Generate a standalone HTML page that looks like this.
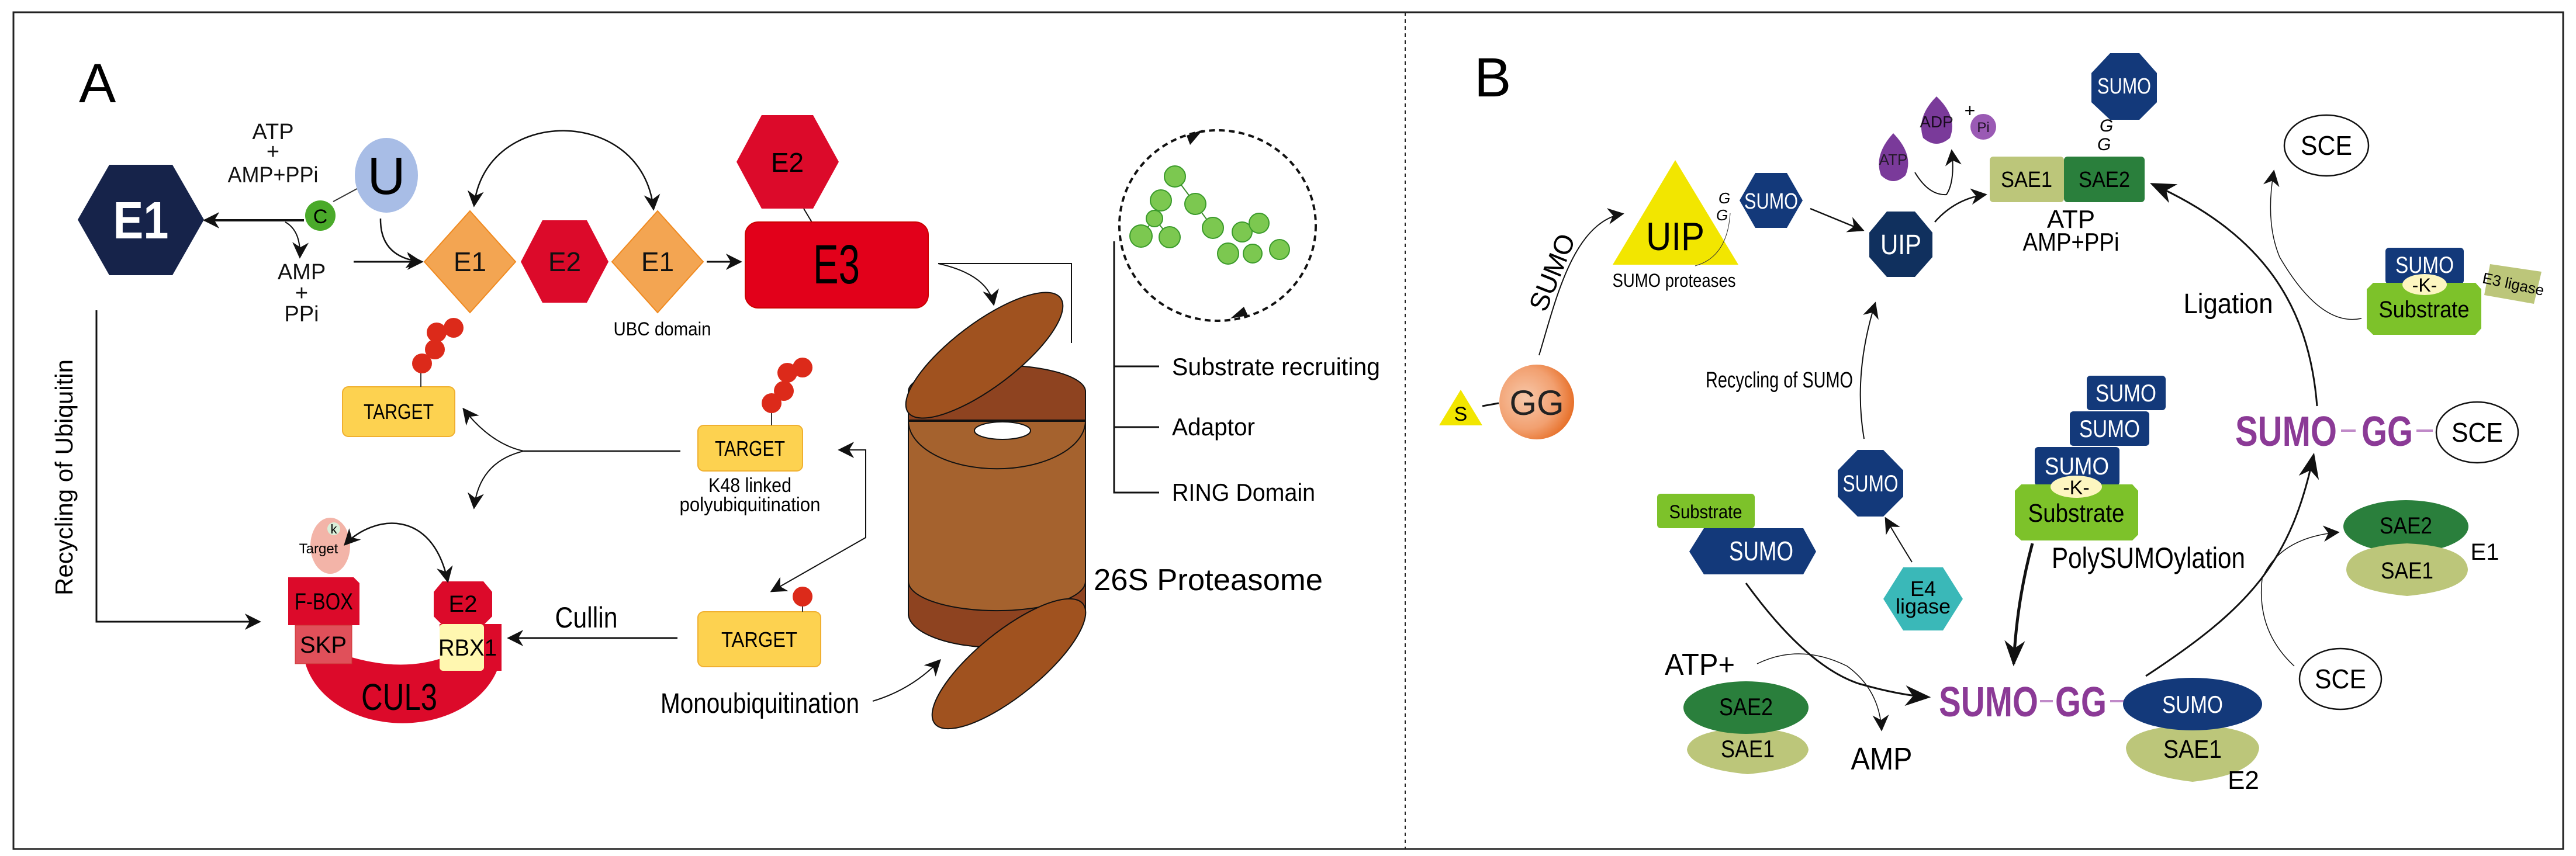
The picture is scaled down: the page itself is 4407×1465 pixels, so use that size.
<!DOCTYPE html>
<html><head><meta charset="utf-8"><style>
html,body{margin:0;padding:0;background:#fff}
svg{display:block}
text{font-family:"Liberation Sans",Arial,sans-serif}
</style></head><body>
<svg width="4407" height="1465" viewBox="0 0 4407 1465" xmlns="http://www.w3.org/2000/svg">
<defs>
<marker id="a" viewBox="0 0 10 10" refX="9" refY="5" markerWidth="28" markerHeight="28" orient="auto-start-reverse" markerUnits="userSpaceOnUse"><path d="M0,0 L10,5 L0,10 L3,5 Z" fill="#111"/></marker>
<marker id="ab" viewBox="0 0 10 10" refX="9" refY="5" markerWidth="44" markerHeight="44" orient="auto" markerUnits="userSpaceOnUse"><path d="M0,1 L10,5 L0,9 L3,5 Z" fill="#111"/></marker>
<radialGradient id="gg" cx="0.35" cy="0.45" r="0.75"><stop offset="0" stop-color="#f7c8aa"/><stop offset="0.55" stop-color="#f2a070"/><stop offset="1" stop-color="#e25c0c"/></radialGradient>
</defs>
<rect x="23" y="21" width="4362" height="1432" fill="none" stroke="#222" stroke-width="3"/>
<line x1="2404" y1="21" x2="2404" y2="1453" stroke="#222" stroke-width="2" stroke-dasharray="6,6"/>

<!-- ============ PANEL A ============ -->
<text x="135" y="175" font-size="95">A</text>
<polygon points="133,376 187,282 295,282 349,376 295,471 187,471" fill="#16234a"/>
<text x="241" y="408" font-size="90" font-weight="bold" fill="#fff" text-anchor="middle" textLength="95" lengthAdjust="spacingAndGlyphs">E1</text>
<g font-size="38" text-anchor="middle" fill="#111">
<text x="467" y="238">ATP</text><text x="467" y="272">+</text><text x="467" y="312" textLength="155" lengthAdjust="spacingAndGlyphs">AMP+PPi</text>
<text x="516" y="478">AMP</text><text x="516" y="514">+</text><text x="516" y="550">PPi</text>
</g>
<line x1="570" y1="345" x2="620" y2="318" stroke="#333" stroke-width="2"/>
<ellipse cx="661" cy="300" rx="54" ry="64" fill="#a8bde6"/>
<text x="661" y="332" font-size="90" text-anchor="middle">U</text>
<line x1="520" y1="377" x2="350" y2="377" stroke="#111" stroke-width="4" marker-end="url(#a)"/>
<circle cx="548" cy="369" r="26" fill="#4aaa2a"/>
<text x="548" y="382" font-size="34" text-anchor="middle">C</text>
<path d="M488,380 Q515,395 513,440" fill="none" stroke="#111" stroke-width="2" marker-end="url(#a)"/>
<path d="M651,374 Q650,440 720,448" fill="none" stroke="#111" stroke-width="2.5" marker-end="url(#a)"/>
<line x1="605" y1="448" x2="722" y2="448" stroke="#111" stroke-width="3" marker-end="url(#a)"/>
<polygon points="726,448 804,361 882,448 804,535" fill="#f3a552" stroke="#f08a20" stroke-width="2"/>
<polygon points="891,448 928,377 1004,377 1041,448 1004,518 928,518" fill="#dc0a2a"/>
<polygon points="1047,448 1125,361 1203,448 1125,535" fill="#f3a552" stroke="#f08a20" stroke-width="2"/>
<g font-size="46" text-anchor="middle" fill="#111"><text x="804" y="464">E1</text><text x="966" y="464">E2</text><text x="1125" y="464">E1</text></g>
<path d="M811,352 C830,180 1100,180 1118,358" fill="none" stroke="#111" stroke-width="2.5" marker-start="url(#a)" marker-end="url(#a)"/>
<line x1="1209" y1="448" x2="1267" y2="448" stroke="#111" stroke-width="3" marker-end="url(#a)"/>
<text x="1133" y="574" font-size="32" text-anchor="middle" textLength="167" lengthAdjust="spacingAndGlyphs">UBC domain</text>
<polygon points="1260,277 1303,197 1391,197 1435,277 1391,357 1303,357" fill="#dc0a2a"/>
<text x="1347" y="294" font-size="46" text-anchor="middle">E2</text>
<line x1="1375" y1="357" x2="1390" y2="382" stroke="#111" stroke-width="2"/>
<rect x="1275" y="380" width="313" height="147" rx="22" fill="#e2001a" stroke="#c00" stroke-width="2"/>
<text x="1431" y="485" font-size="95" text-anchor="middle" textLength="80" lengthAdjust="spacingAndGlyphs">E3</text>
<polyline points="1605,451 1833,451 1833,587" fill="none" stroke="#111" stroke-width="2"/>
<path d="M1605,451 Q1690,470 1700,521" fill="none" stroke="#111" stroke-width="2" marker-end="url(#a)"/>

<!-- proteasome -->
<path d="M1554,680 L1554,1050 A151,58 0 0 0 1857,1050 L1857,680 Z" fill="#a5622e" stroke="#111" stroke-width="2"/>
<path d="M1554,720 L1554,670 A151,45 0 0 1 1857,670 L1857,720 Z" fill="#8e4320" stroke="#111" stroke-width="2"/>
<path d="M1554,720 A151,82 0 0 0 1857,720" fill="#a5622e" stroke="#111" stroke-width="2"/>
<line x1="1554" y1="720" x2="1857" y2="720" stroke="#111" stroke-width="4"/>
<path d="M1554,995 L1554,1050 A151,58 0 0 0 1857,1050 L1857,995 A151,50 0 0 1 1554,995 Z" fill="#8e4320" stroke="#111" stroke-width="2"/>
<ellipse cx="1715" cy="737" rx="48" ry="15" fill="#fff" stroke="#111" stroke-width="2"/>
<ellipse cx="1684" cy="608" rx="163" ry="55" transform="rotate(-37 1684 608)" fill="#a0521f" stroke="#111" stroke-width="2"/>
<ellipse cx="1726" cy="1136" rx="163" ry="55" transform="rotate(-39 1726 1136)" fill="#a0521f" stroke="#111" stroke-width="2"/>
<text x="1871" y="1010" font-size="52" textLength="392" lengthAdjust="spacingAndGlyphs">26S Proteasome</text>
<polyline points="1906,413 1906,843 1983,843" fill="none" stroke="#111" stroke-width="3"/>
<line x1="1906" y1="627" x2="1983" y2="627" stroke="#111" stroke-width="3"/>
<line x1="1906" y1="731" x2="1983" y2="731" stroke="#111" stroke-width="3"/>
<g font-size="42"><text x="2005" y="642" textLength="356" lengthAdjust="spacingAndGlyphs">Substrate recruiting</text><text x="2005" y="745" textLength="142" lengthAdjust="spacingAndGlyphs">Adaptor</text><text x="2005" y="857" textLength="245" lengthAdjust="spacingAndGlyphs">RING Domain</text></g>
<ellipse cx="2083" cy="386" rx="168" ry="163" fill="none" stroke="#111" stroke-width="4" stroke-dasharray="10,7"/>
<path d="M2030,232 L2058,222 L2036,248 Z" fill="#111"/>
<path d="M2135,540 L2105,545 L2128,525 Z" fill="#111"/>
<g stroke="#3a8a2a" stroke-width="2">
<line x1="2010" y1="302" x2="2045" y2="349"/><line x1="2045" y1="349" x2="2075" y2="390"/><line x1="1986" y1="343" x2="1975" y2="374"/><line x1="1975" y1="374" x2="1952" y2="404"/><line x1="1975" y1="374" x2="2001" y2="406"/>
</g>
<g fill="#7cc850" stroke="#3a9a2a" stroke-width="2">
<circle cx="2010" cy="302" r="18"/><circle cx="1986" cy="343" r="18"/><circle cx="2045" cy="349" r="18"/><circle cx="1975" cy="374" r="14"/><circle cx="1952" cy="404" r="19"/><circle cx="2001" cy="406" r="18"/><circle cx="2075" cy="390" r="18"/><circle cx="2125" cy="397" r="17"/><circle cx="2154" cy="382" r="17"/><circle cx="2101" cy="434" r="18"/><circle cx="2143" cy="434" r="16"/><circle cx="2189" cy="427" r="17"/>
</g>

<!-- targets -->
<g fill="#fdd250" stroke="#f0b030" stroke-width="2">
<rect x="586" y="662" width="192" height="85" rx="10"/>
<rect x="1194" y="728" width="179" height="78" rx="10"/>
<rect x="1194" y="1047" width="210" height="94" rx="10"/>
</g>
<g font-size="36" text-anchor="middle"><text x="682" y="717" textLength="120" lengthAdjust="spacingAndGlyphs">TARGET</text><text x="1283" y="780" textLength="120" lengthAdjust="spacingAndGlyphs">TARGET</text><text x="1299" y="1107" textLength="130" lengthAdjust="spacingAndGlyphs">TARGET</text></g>
<g stroke="#333" stroke-width="2"><line x1="720" y1="662" x2="720" y2="620"/><line x1="1320" y1="728" x2="1320" y2="690"/><line x1="1373" y1="1047" x2="1373" y2="1023"/></g>
<g fill="#dc2a1a"><circle cx="722" cy="622" r="17"/><circle cx="744" cy="598" r="17"/><circle cx="747" cy="569" r="17"/><circle cx="776" cy="561" r="17"/>
<circle cx="1320" cy="690" r="17"/><circle cx="1341" cy="669" r="17"/><circle cx="1347" cy="638" r="17"/><circle cx="1373" cy="629" r="17"/><circle cx="1373" cy="1021" r="17"/></g>
<g font-size="34" text-anchor="middle"><text x="1283" y="842" textLength="142" lengthAdjust="spacingAndGlyphs">K48 linked</text><text x="1283" y="875" textLength="241" lengthAdjust="spacingAndGlyphs">polyubiquitination</text></g>
<line x1="1164" y1="772" x2="896" y2="772" stroke="#111" stroke-width="2.5"/>
<path d="M896,772 Q840,760 793,700" fill="none" stroke="#111" stroke-width="2" marker-end="url(#a)"/>
<path d="M896,772 Q820,790 811,869" fill="none" stroke="#111" stroke-width="2" marker-end="url(#a)"/>
<polyline points="1436,770 1481,770 1481,920 1320,1012" fill="none" stroke="#111" stroke-width="2" marker-start="url(#a)" marker-end="url(#a)"/>
<line x1="1159" y1="1092" x2="870" y2="1092" stroke="#111" stroke-width="3" marker-end="url(#a)"/>
<text x="1003" y="1074" font-size="50" text-anchor="middle" textLength="107" lengthAdjust="spacingAndGlyphs">Cullin</text>
<text x="1300" y="1220" font-size="48" text-anchor="middle" textLength="340" lengthAdjust="spacingAndGlyphs">Monoubiquitination</text>
<path d="M1493,1200 Q1560,1180 1608,1130" fill="none" stroke="#111" stroke-width="2" marker-end="url(#a)"/>
<text transform="translate(124,817) rotate(-90)" font-size="42" text-anchor="middle">Recycling of Ubiquitin</text>
<polyline points="165,531 165,1064 444,1064" fill="none" stroke="#111" stroke-width="3" marker-end="url(#a)"/>

<!-- CUL3 complex -->
<path d="M520,1125 A170,130 0 0 0 857,1125 L857,1110 L760,1125 Q690,1150 602,1125 Z" fill="#dc0a2a"/>
<ellipse cx="565" cy="934" rx="34" ry="48" fill="#f3b4a8"/>
<circle cx="571" cy="905" r="11" fill="#d8eed8"/>
<text x="571" y="913" font-size="22" text-anchor="middle">k</text>
<text x="545" y="947" font-size="24" text-anchor="middle">Target</text>
<polygon points="493,988 605,988 615,998 615,1070 493,1070 493,1063" fill="#dc0a2a"/>
<rect x="505" y="1070" width="97" height="66" fill="#e0505a" stroke="#c33" stroke-width="1"/>
<polygon points="757,995 827,995 842,1013 842,1055 827,1070 757,1070 742,1055 742,1013" fill="#dc0a2a"/>
<rect x="752" y="1068" width="106" height="80" fill="#dc0a2a"/>
<rect x="752" y="1068" width="76" height="80" rx="6" fill="#fff7b0"/>
<g font-size="40" text-anchor="middle"><text x="554" y="1043" textLength="100" lengthAdjust="spacingAndGlyphs">F-BOX</text><text x="553" y="1117">SKP</text><text x="792" y="1047">E2</text><text x="800" y="1122" textLength="100" lengthAdjust="spacingAndGlyphs">RBX1</text></g>
<text x="683" y="1215" font-size="64" text-anchor="middle" textLength="130" lengthAdjust="spacingAndGlyphs">CUL3</text>
<path d="M590,932 C640,880 740,870 766,995" fill="none" stroke="#111" stroke-width="2.5" marker-start="url(#a)" marker-end="url(#a)"/>

<!-- ============ PANEL B ============ -->
<text x="2522" y="165" font-size="95">B</text>
<polygon points="2499,667 2462,728 2536,728" fill="#f2e600"/>
<text x="2499" y="720" font-size="34" text-anchor="middle">S</text>
<line x1="2536" y1="695" x2="2564" y2="690" stroke="#111" stroke-width="3"/>
<ellipse cx="2629" cy="688" rx="64" ry="64" fill="url(#gg)"/>
<text x="2629" y="710" font-size="60" text-anchor="middle" fill="#222">GG</text>
<path d="M2633,608 C2660,520 2690,380 2776,366" fill="none" stroke="#111" stroke-width="2" marker-end="url(#a)"/>
<text transform="translate(2670,472) rotate(-68)" font-size="46" text-anchor="middle">SUMO</text>
<polygon points="2866,274 2759,453 2974,453" fill="#f2e600"/>
<text x="2866" y="428" font-size="68" text-anchor="middle" textLength="100" lengthAdjust="spacingAndGlyphs">UIP</text>
<text x="2864" y="491" font-size="32" text-anchor="middle" textLength="211" lengthAdjust="spacingAndGlyphs">SUMO proteases</text>
<path d="M2960,365 Q2955,440 2900,455" fill="none" stroke="#333" stroke-width="1"/>
<g font-size="26" font-style="italic"><text x="2940" y="348">G</text><text x="2936" y="377">G</text></g>
<polygon points="2976,343 3003,296 3057,296 3084,343 3057,390 3003,390" fill="#13397a"/>
<text x="3030" y="357" font-size="38" fill="#fff" text-anchor="middle" textLength="92" lengthAdjust="spacingAndGlyphs">SUMO</text>
<line x1="3097" y1="357" x2="3187" y2="394" stroke="#111" stroke-width="2.5" marker-end="url(#a)"/>
<polygon points="3228,362 3276,362 3306,398 3306,440 3276,474 3228,474 3198,440 3198,398" fill="#10305e"/>
<text x="3252" y="435" font-size="48" fill="#fff" text-anchor="middle" textLength="70" lengthAdjust="spacingAndGlyphs">UIP</text>
<path d="M3310,380 Q3345,340 3397,333" fill="none" stroke="#111" stroke-width="2.5" marker-end="url(#a)"/>
<rect x="3404" y="268" width="127" height="78" rx="6" fill="#bcc67a"/>
<rect x="3531" y="268" width="138" height="78" rx="6" fill="#2a7f3c"/>
<g font-size="38" text-anchor="middle"><text x="3467" y="320" textLength="88" lengthAdjust="spacingAndGlyphs">SAE1</text><text x="3600" y="320" textLength="88" lengthAdjust="spacingAndGlyphs">SAE2</text></g>
<polygon points="3610,91 3660,91 3690,125 3690,175 3660,205 3610,205 3578,175 3578,125" fill="#13397a"/>
<text x="3634" y="160" font-size="38" fill="#fff" text-anchor="middle" textLength="92" lengthAdjust="spacingAndGlyphs">SUMO</text>
<g font-size="30" font-style="italic"><text x="3592" y="225">G</text><text x="3588" y="257">G</text></g>
<path d="M3239,228 Q3275,265 3260,300 Q3239,320 3218,300 Q3205,265 3239,228 Z" fill="#7a3a9a"/>
<text x="3239" y="282" font-size="26" fill="#111" text-anchor="middle" opacity="0.8">ATP</text>
<path d="M3313,165 Q3350,200 3336,236 Q3313,256 3290,236 Q3278,200 3313,165 Z" fill="#7a3a9a"/>
<text x="3313" y="218" font-size="28" text-anchor="middle" opacity="0.8">ADP</text>
<circle cx="3393" cy="217" r="22" fill="#9a5ab4"/>
<text x="3393" y="226" font-size="24" text-anchor="middle" opacity="0.8">Pi</text>
<text x="3370" y="200" font-size="32" text-anchor="middle">+</text>
<path d="M3276,295 Q3300,335 3330,333 Q3345,310 3339,258" fill="none" stroke="#111" stroke-width="2" marker-end="url(#a)"/>
<g font-size="44" text-anchor="middle"><text x="3543" y="390">ATP</text><text x="3543" y="429" textLength="165" lengthAdjust="spacingAndGlyphs">AMP+PPi</text></g>
<path d="M3964,695 C3950,520 3870,400 3682,315" fill="none" stroke="#111" stroke-width="3" marker-end="url(#ab)"/>
<text x="3812" y="536" font-size="48" text-anchor="middle" textLength="153" lengthAdjust="spacingAndGlyphs">Ligation</text>
<ellipse cx="3980" cy="249" rx="72" ry="52" fill="#fff" stroke="#111" stroke-width="2.5"/>
<text x="3980" y="265" font-size="46" text-anchor="middle" textLength="88" lengthAdjust="spacingAndGlyphs">SCE</text>
<path d="M4040,545 Q3970,560 3900,440 Q3875,380 3890,293" fill="none" stroke="#111" stroke-width="1.5" marker-end="url(#a)"/>
<polygon points="4260,452 4348,465 4335,520 4250,505" fill="#bcc67a"/>
<text x="4298" y="495" font-size="26" transform="rotate(12 4298 495)" text-anchor="middle">E3 ligase</text>
<rect x="4081" y="424" width="134" height="62" rx="6" fill="#13397a"/>
<text x="4148" y="467" font-size="40" fill="#fff" text-anchor="middle" textLength="100" lengthAdjust="spacingAndGlyphs">SUMO</text>
<polygon points="4060,484 4235,484 4245,495 4245,562 4235,573 4060,573 4049,562 4049,495" fill="#7dc22a"/>
<ellipse cx="4148" cy="487" rx="38" ry="18" fill="#fdf6c0"/>
<text x="4148" y="499" font-size="32" text-anchor="middle">-K-</text>
<text x="4147" y="543" font-size="40" text-anchor="middle" textLength="155" lengthAdjust="spacingAndGlyphs">Substrate</text>
<text x="3824" y="763" font-size="72" font-weight="bold" fill="#8b3a96" textLength="174" lengthAdjust="spacingAndGlyphs">SUMO</text>
<text x="4040" y="763" font-size="72" font-weight="bold" fill="#8b3a96" textLength="88" lengthAdjust="spacingAndGlyphs">GG</text>
<line x1="4005" y1="737" x2="4030" y2="737" stroke="#c08ac8" stroke-width="4"/>
<line x1="4134" y1="737" x2="4162" y2="737" stroke="#c08ac8" stroke-width="4"/>
<ellipse cx="4238" cy="740" rx="70" ry="52" fill="#fff" stroke="#111" stroke-width="2.5"/>
<text x="4238" y="756" font-size="46" text-anchor="middle" textLength="88" lengthAdjust="spacingAndGlyphs">SCE</text>
<path d="M3671,1157 C3850,1040 3920,960 3958,779" fill="none" stroke="#111" stroke-width="3" marker-end="url(#ab)"/>
<ellipse cx="4116" cy="901" rx="107" ry="45" fill="#2a7f3c"/>
<path d="M4014,975 Q4015,935 4118,930 Q4220,935 4222,975 Q4220,1010 4118,1020 Q4015,1010 4014,975 Z" fill="#bcc67a"/>
<g font-size="40" text-anchor="middle"><text x="4116" y="913" textLength="90" lengthAdjust="spacingAndGlyphs">SAE2</text><text x="4118" y="990" textLength="90" lengthAdjust="spacingAndGlyphs">SAE1</text><text x="4251" y="958">E1</text></g>
<ellipse cx="4004" cy="1162" rx="70" ry="52" fill="#fff" stroke="#111" stroke-width="2.5"/>
<text x="4004" y="1178" font-size="46" text-anchor="middle" textLength="88" lengthAdjust="spacingAndGlyphs">SCE</text>
<path d="M3925,1140 Q3860,1080 3870,990 Q3900,920 4000,911" fill="none" stroke="#111" stroke-width="1.5" marker-end="url(#a)"/>

<rect x="3570" y="643" width="135" height="59" rx="6" fill="#13397a"/>
<rect x="3541" y="704" width="136" height="59" rx="6" fill="#13397a"/>
<rect x="3481" y="765" width="145" height="66" rx="6" fill="#13397a"/>
<g font-size="42" fill="#fff" text-anchor="middle"><text x="3637" y="687" textLength="104" lengthAdjust="spacingAndGlyphs">SUMO</text><text x="3609" y="748" textLength="104" lengthAdjust="spacingAndGlyphs">SUMO</text><text x="3553" y="812" textLength="110" lengthAdjust="spacingAndGlyphs">SUMO</text></g>
<polygon points="3458,829 3648,829 3658,840 3658,915 3648,925 3458,925 3447,915 3447,840" fill="#7dc22a"/>
<ellipse cx="3552" cy="833" rx="44" ry="19" fill="#fdf6c0"/>
<text x="3552" y="846" font-size="34" text-anchor="middle">-K-</text>
<text x="3552" y="893" font-size="44" text-anchor="middle" textLength="165" lengthAdjust="spacingAndGlyphs">Substrate</text>
<text x="3510" y="972" font-size="50" textLength="331" lengthAdjust="spacingAndGlyphs">PolySUMOylation</text>
<path d="M3477,930 Q3450,1030 3445,1136" fill="none" stroke="#111" stroke-width="5" marker-end="url(#ab)"/>
<text x="3317" y="1226" font-size="72" font-weight="bold" fill="#8b3a96" textLength="170" lengthAdjust="spacingAndGlyphs">SUMO</text>
<text x="3516" y="1226" font-size="72" font-weight="bold" fill="#8b3a96" textLength="88" lengthAdjust="spacingAndGlyphs">GG</text>
<line x1="3490" y1="1200" x2="3512" y2="1200" stroke="#c08ac8" stroke-width="4"/>
<line x1="3610" y1="1200" x2="3637" y2="1200" stroke="#c08ac8" stroke-width="4"/>
<path d="M3637,1280 Q3640,1245 3751,1240 Q3862,1245 3865,1280 Q3860,1325 3751,1338 Q3640,1325 3637,1280 Z" fill="#bcc67a"/>
<ellipse cx="3751" cy="1205" rx="119" ry="45" fill="#13397a"/>
<text x="3751" y="1220" font-size="42" fill="#fff" text-anchor="middle" textLength="104" lengthAdjust="spacingAndGlyphs">SUMO</text>
<g font-size="44" text-anchor="middle"><text x="3751" y="1297" textLength="100" lengthAdjust="spacingAndGlyphs">SAE1</text><text x="3838" y="1350">E2</text></g>

<rect x="2835" y="845" width="167" height="59" rx="6" fill="#7dc22a"/>
<text x="2918" y="887" font-size="32" text-anchor="middle" textLength="125" lengthAdjust="spacingAndGlyphs">Substrate</text>
<polygon points="2890,944 2915,904 3085,904 3107,944 3085,983 2915,983" fill="#13397a"/>
<text x="3013" y="959" font-size="46" fill="#fff" text-anchor="middle" textLength="110" lengthAdjust="spacingAndGlyphs">SUMO</text>
<path d="M2987,998 Q3090,1140 3180,1170 Q3250,1190 3299,1193" fill="none" stroke="#111" stroke-width="3" marker-end="url(#ab)"/>
<text x="2848" y="1155" font-size="52" textLength="120" lengthAdjust="spacingAndGlyphs">ATP+</text>
<path d="M3006,1136 Q3080,1100 3160,1140 Q3215,1180 3219,1249" fill="none" stroke="#111" stroke-width="1.5" marker-end="url(#a)"/>
<path d="M2886,1283 Q2890,1250 2990,1245 Q3090,1250 3094,1283 Q3090,1315 2990,1325 Q2890,1315 2886,1283 Z" fill="#bcc67a"/>
<ellipse cx="2987" cy="1211" rx="107" ry="45" fill="#2a7f3c"/>
<g font-size="42" text-anchor="middle"><text x="2987" y="1224" textLength="92" lengthAdjust="spacingAndGlyphs">SAE2</text><text x="2990" y="1296" textLength="92" lengthAdjust="spacingAndGlyphs">SAE1</text></g>
<text x="3219" y="1317" font-size="54" text-anchor="middle" textLength="105" lengthAdjust="spacingAndGlyphs">AMP</text>
<polygon points="3178,770 3222,770 3256,805 3256,850 3222,884 3178,884 3144,850 3144,805" fill="#13397a"/>
<text x="3200" y="841" font-size="40" fill="#fff" text-anchor="middle" textLength="95" lengthAdjust="spacingAndGlyphs">SUMO</text>
<polygon points="3222,1025 3256,971 3324,971 3358,1025 3324,1079 3256,1079" fill="#3ab8b8"/>
<g font-size="36" text-anchor="middle"><text x="3290" y="1020">E4</text><text x="3290" y="1050">ligase</text></g>
<path d="M3271,962 Q3245,920 3226,887" fill="none" stroke="#111" stroke-width="2" marker-end="url(#a)"/>
<text x="3170" y="663" font-size="38" text-anchor="end" textLength="252" lengthAdjust="spacingAndGlyphs">Recycling of SUMO</text>
<path d="M3189,751 Q3170,640 3208,519" fill="none" stroke="#111" stroke-width="2" marker-end="url(#a)"/>
</svg>
</body></html>
